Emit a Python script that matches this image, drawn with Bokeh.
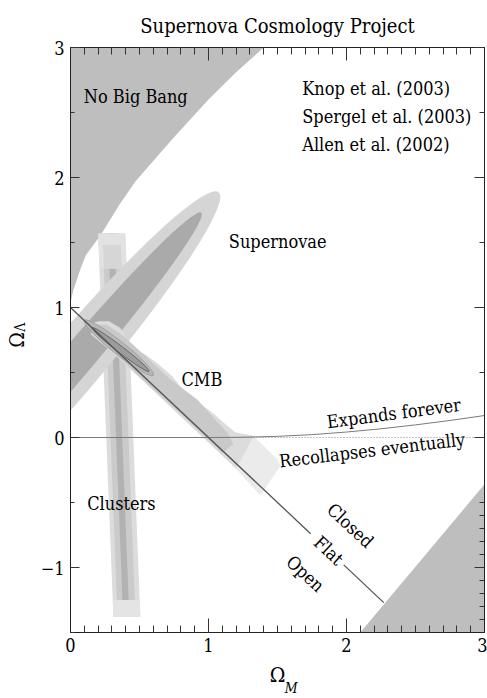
import numpy as np
from bokeh.plotting import figure
from bokeh.models import (LinearAxis, FixedTicker, Range1d, CustomJSTickFormatter)
from bokeh.core.properties import value
from bokeh.embed import file_html
from bokeh.resources import INLINE

FONT = "DejaVu Serif Condensed"
TXT = "18px"

# ---------------- data ----------------
x_lim = [0.0, 3.0]
y_lim = [-1.5, 3.0]

x_major = [0, 1, 2, 3]
y_major = [-1, 0, 1, 2, 3]

nbb_om = [0.0, 0.005, 0.02, 0.07, 0.11, 0.22, 0.36, 0.47, 0.75, 1.0, 1.2, 1.4]
nbb_ol = [1.0, 1.06, 1.13, 1.29, 1.40, 1.56, 1.80, 1.97, 2.31, 2.60, 2.81, 3.0]

lr_om = [2.10, 2.55, 3.0]
lr_ol = [-1.5, -0.93, -0.36]

rc_om = [1.0, 1.25, 1.5, 1.75, 2.0, 2.25, 2.5, 2.75, 3.0]
rc_ol = [0.0, 0.002, 0.009, 0.022, 0.042, 0.067, 0.097, 0.131, 0.169]

flat_om = [[0.0, 1.74], [1.98, 2.27]]
flat_ol = [[1.0, -0.74], [-0.98, -1.27]]

zero_solid_om = [0.0, 1.0]
zero_dot_om = [1.0, 3.0]

sn_om = [0.0, 0.0]
sn_ol = [0.543, 0.543]
sn_major = [3.32, 2.93]
sn_minor = [0.440, 0.250]
sn_angle_deg = [49.7, 49.7]
sn_colors = ["#d5d5d5", "#aaaaaa"]

cl_ol = [1.57, -1.38]
cl_outer_l = [0.200, 0.311]
cl_outer_r = [0.397, 0.506]
cl_mid_l = [0.232, 0.341]
cl_mid_r = [0.362, 0.471]
cl_core_l = [0.272, 0.381]
cl_core_r = [0.317, 0.426]
cl_top_cap = [1.57, 1.30]
cl_top_mid = [1.48, 1.30]
cl_bot_cap = [-1.38, -1.25]

cmb_outer_om = [0.145, 0.157, 0.205, 0.278, 0.362, 0.411, 0.447, 0.543, 0.640, 0.737,
                0.833, 0.930, 1.027, 1.123, 1.196, 1.328,
                1.20, 0.90, 0.60, 0.30, 0.15]
cmb_outer_ol = [0.843, 0.881, 0.894, 0.894, 0.843, 0.753, 0.690, 0.638, 0.562, 0.472,
                0.345, 0.268, 0.192, 0.102, 0.038, 0.012,
                -0.24, 0.06, 0.36, 0.66, 0.79]
cmb_tail_om = [1.20, 1.33, 1.50, 1.52, 1.377, 1.17]
cmb_tail_ol = [0.04, 0.01, -0.17, -0.22, -0.447, -0.21]
cmb_mid_om = [0.15, 0.266, 0.386, 0.556, 0.725, 0.918, 1.135, 1.18, 1.10, 0.80, 0.50, 0.20]
cmb_mid_ol = [0.87, 0.868, 0.779, 0.613, 0.447, 0.293, 0.038, -0.05, -0.12, 0.18, 0.47, 0.77]
cmb_ell_om = [0.35, 0.362]
cmb_ell_ol = [0.69, 0.677]
cmb_ell_major = [0.64, 0.52]
cmb_ell_minor = [0.10, 0.05]
cmb_ell_angle_deg = [-38.5, -37.5]
cmb_ell_colors = ["#b6b6b6", "#9c9c9c"]

lab_text = ["No Big Bang", "Knop et al. (2003)", "Spergel et al. (2003)",
            "Allen et al. (2002)", "Supernovae", "CMB", "Clusters"]
lab_om = [0.096, 1.679, 1.679, 1.679, 1.147, 0.804, 0.121]
lab_ol = [2.623, 2.685, 2.470, 2.255, 1.507, 0.447, -0.511]

fate_text = ["Expands forever", "Recollapses eventually"]
fate_om = [2.343, 2.186]
fate_ol = [0.188, -0.096]
fate_angle_deg = [7.4, 6.8]

geo_text = ["Closed", "Flat", "Open"]
geo_om = [2.029, 1.872, 1.703]
geo_ol = [-0.677, -0.869, -1.047]
geo_angle_deg = [-43, -43, -43]

title_text = "Supernova Cosmology Project"
x_label_main, x_label_sub = "\u03a9", "M"
y_label_main, y_label_sub = "\u03a9", "\u039b"
x_sub_pos = 1.600
y_sub_pos = 0.849

# ---------------- figure ----------------
p = figure(width=487, height=698, x_range=Range1d(*x_lim), y_range=Range1d(*y_lim),
           output_backend="svg", toolbar_location=None,
           min_border_left=70, min_border_right=3, min_border_top=47, min_border_bottom=64)
p.xgrid.visible = False
p.ygrid.visible = False
p.outline_line_color = "#222222"
p.background_fill_color = "white"
p.border_fill_color = "white"

p.title.text = title_text
p.title.align = "center"
p.title.text_font = FONT
p.title.text_font_size = "20px"
p.title.text_font_style = "normal"
p.title.text_color = "black"
p.title.standoff = 20

p.patch(nbb_om + [0.0], nbb_ol + [3.0], fill_color="#bebebe", line_color=None)
p.patch(lr_om + [3.0], lr_ol + [-1.5], fill_color="#bebebe", line_color=None)

def band(left, right, ys):
    return [left[0], right[0], right[1], left[1]], [ys[0], ys[0], ys[1], ys[1]]

for (l, r), c in [((cl_outer_l, cl_outer_r), "#dcdcdc"),
                  ((cl_mid_l, cl_mid_r), "#cbcbcb"),
                  ((cl_core_l, cl_core_r), "#b2b2b2")]:
    bx, by = band(l, r, cl_ol)
    p.patch(bx, by, fill_color=c, line_color=None)

ys_desc = cl_ol[::-1]
def edge(edge_vals, ys):
    return [float(np.interp(yv, ys_desc, edge_vals[::-1])) for yv in ys]

for cap, (le, re), c in [(cl_top_cap, (cl_outer_l, cl_outer_r), "#e2e2e2"),
                         (cl_top_mid, (cl_mid_l, cl_mid_r), "#d6d6d6"),
                         (cl_bot_cap, (cl_outer_l, cl_outer_r), "#e4e4e4")]:
    lx, rx = edge(le, cap), edge(re, cap)
    p.patch([lx[0], rx[0], rx[1], lx[1]], [cap[0], cap[0], cap[1], cap[1]],
            fill_color=c, line_color=None)

p.ellipse(x=sn_om, y=sn_ol, width=sn_major, height=sn_minor,
          angle=np.radians(sn_angle_deg), fill_color=sn_colors, line_color=None)

p.patch(cmb_tail_om, cmb_tail_ol, fill_color="#ebebeb", line_color=None)
p.patch(cmb_outer_om, cmb_outer_ol, fill_color="#dcdcdc", line_color=None)
p.patch(cmb_mid_om, cmb_mid_ol, fill_color="#c9c9c9", line_color=None)
p.ellipse(x=cmb_ell_om, y=cmb_ell_ol, width=cmb_ell_major, height=cmb_ell_minor,
          angle=np.radians(cmb_ell_angle_deg), fill_color=cmb_ell_colors,
          line_color=["#9a9a9a", "#555555"], line_width=0.8)

p.line(zero_solid_om, [0, 0], line_color="#7a7a7a", line_width=1)
p.line(zero_dot_om, [0, 0], line_color="#7a7a7a", line_width=0.9, line_dash="1 2")
p.line(rc_om, rc_ol, line_color="#7a7a7a", line_width=1)
p.multi_line(flat_om, flat_ol, line_color="#555555", line_width=1.3)

p.text(x=lab_om, y=lab_ol, text=lab_text, text_font=value(FONT),
       text_font_size=value(TXT), text_color="black",
       text_align="left", text_baseline="alphabetic")
p.text(x=fate_om, y=fate_ol, text=fate_text, angle=np.radians(fate_angle_deg),
       text_font=value(FONT), text_font_size=value(TXT), text_color="black",
       text_align="center", text_baseline="alphabetic")
p.text(x=geo_om, y=geo_ol, text=geo_text, angle=np.radians(geo_angle_deg),
       text_font=value(FONT), text_font_size=value(TXT), text_color="black",
       text_align="center", text_baseline="middle")

x_minor = [round(0.1 * k, 1) for k in range(0, 31) if k % 10 != 0]
y_minor_left = [-1.5, -0.5, 0.5, 1.5, 2.5]
y_minor_right = [-1.4, -1.3, -1.2, -1.1, -0.9, -0.8, -0.7, -0.6, -0.5, 0.5, 1.5, 2.5]

def style_axis(ax, major_in, minor_in):
    ax.major_tick_out = 0
    ax.minor_tick_out = 0
    ax.major_tick_in = major_in
    ax.minor_tick_in = minor_in
    ax.axis_line_color = "#222222"
    ax.major_tick_line_color = "#333333"
    ax.minor_tick_line_color = "#333333"
    ax.major_label_text_font = FONT
    ax.major_label_text_font_size = TXT
    ax.major_label_text_color = "black"

def bare_axis(ax):
    ax.major_tick_out = 0
    ax.minor_tick_out = 0
    ax.major_tick_in = 0
    ax.minor_tick_in = 0
    ax.axis_line_color = None
    ax.major_tick_line_color = None
    ax.minor_tick_line_color = None

xa = p.xaxis[0]
xa.ticker = FixedTicker(ticks=x_major, minor_ticks=x_minor)
style_axis(xa, 14, 7)
xa.major_label_standoff = 5
xa.axis_label = x_label_main
xa.axis_label_text_font = FONT
xa.axis_label_text_font_size = "21px"
xa.axis_label_text_font_style = "normal"
xa.axis_label_text_color = "black"
xa.axis_label_standoff = 8

ya = p.yaxis[0]
ya.ticker = FixedTicker(ticks=y_major, minor_ticks=y_minor_left)
style_axis(ya, 9, 4)
ya.major_label_standoff = 6
ya.major_label_overrides = {-1: "\u22121"}
ya.axis_label = y_label_main
ya.axis_label_text_font = FONT
ya.axis_label_text_font_size = "21px"
ya.axis_label_text_font_style = "normal"
ya.axis_label_text_color = "black"
ya.axis_label_standoff = 9

top = LinearAxis(ticker=FixedTicker(ticks=x_major, minor_ticks=x_minor),
                 formatter=CustomJSTickFormatter(code="return ''"))
style_axis(top, 13, 7)
top.major_label_standoff = 0
top.major_label_text_font_size = "1px"
p.add_layout(top, "above")

right = LinearAxis(ticker=FixedTicker(ticks=y_major, minor_ticks=y_minor_right),
                   formatter=CustomJSTickFormatter(code="return ''"))
style_axis(right, 10, 5)
right.major_label_standoff = 0
right.major_label_text_font_size = "1px"
p.add_layout(right, "right")

xsub = LinearAxis(ticker=FixedTicker(ticks=[x_sub_pos], minor_ticks=[]),
                  formatter=CustomJSTickFormatter(args=dict(t=x_label_sub), code="return t"))
bare_axis(xsub)
xsub.major_label_text_font = FONT
xsub.major_label_text_font_size = "14px"
xsub.major_label_text_font_style = "italic"
xsub.major_label_text_color = "black"
xsub.major_label_standoff = -10
p.add_layout(xsub, "below")

ysub = LinearAxis(ticker=FixedTicker(ticks=[y_sub_pos], minor_ticks=[]),
                  formatter=CustomJSTickFormatter(args=dict(t=y_label_sub), code="return t"))
bare_axis(ysub)
ysub.major_label_text_font = FONT
ysub.major_label_text_font_size = "14px"
ysub.major_label_text_color = "black"
ysub.major_label_orientation = "vertical"
ysub.major_label_standoff = -27
p.add_layout(ysub, "left")

open("out.html", "w").write(file_html(p, INLINE))
